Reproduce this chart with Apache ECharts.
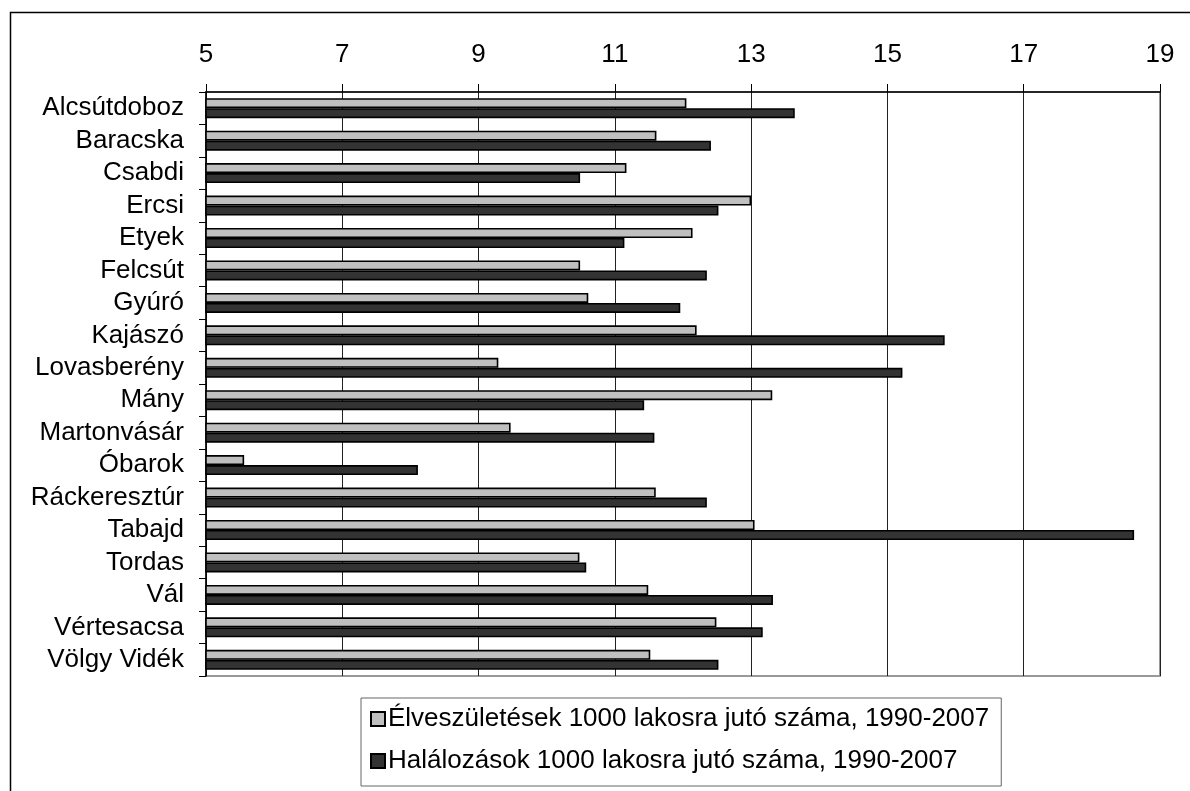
<!DOCTYPE html>
<html>
<head>
<meta charset="utf-8">
<script src="https://cdn.jsdelivr.net/npm/echarts@6/dist/echarts.min.js"></script>
<style>
html,body{margin:0;padding:0;background:#fff;}
#chart{width:1190px;height:791px;}
</style>
</head>
<body>
<div id="chart"></div>
<script>
var categories = ['Alcsútdoboz','Baracska','Csabdi','Ercsi','Etyek','Felcsút','Gyúró','Kajászó','Lovasberény','Mány','Martonvásár','Óbarok','Ráckeresztúr','Tabajd','Tordas','Vál','Vértesacsa','Völgy Vidék'];
var births = [12.05, 11.61, 11.17, 13.0, 12.14, 10.49, 10.61, 12.2, 9.29, 13.31, 9.47, 5.56, 11.6, 13.05, 10.48, 11.49, 12.49, 11.52];
var deaths = [13.64, 12.41, 10.49, 12.52, 11.14, 12.35, 11.96, 15.84, 15.22, 11.43, 11.58, 8.11, 12.35, 18.62, 10.58, 13.32, 13.17, 12.52];
var seriesNames = ['Élveszületések 1000 lakosra jutó száma, 1990-2007', 'Halálozások 1000 lakosra jutó száma, 1990-2007'];
var xMin = 5, xMax = 19, xStep = 2;

var FONT = '"Liberation Sans", Arial, sans-serif';
var chart = echarts.init(document.getElementById('chart'), null, {renderer: 'canvas'});
chart.setOption({
  backgroundColor: '#fff',
  animation: false,
  textStyle: {fontFamily: FONT, color: '#000'},
  graphic: [{
    type: 'rect', left: 8, top: 10, silent: true, z: -10,
    shape: {width: 1200, height: 800},
    style: {fill: 'none', stroke: '#000', lineWidth: 1.5}
  }],
  grid: {
    left: 206, right: 30, top: 92, bottom: 115,
    show: true, borderColor: '#999', borderWidth: 2, backgroundColor: 'transparent'
  },
  legend: {
    orient: 'vertical',
    left: 361, top: 698,
    padding: [8, 12, 12, 9],
    itemGap: 16,
    itemWidth: 14, itemHeight: 14,
    borderColor: '#666', borderWidth: 1,
    icon: 'rect',
    textStyle: {fontFamily: FONT, fontSize: 26, color: '#000', padding: [0,0,0,-2]},
    data: seriesNames
  },
  xAxis: {
    type: 'value', position: 'top',
    min: xMin, max: xMax, interval: xStep,
    axisLine: {show: true, onZero: false, lineStyle: {color: '#000', width: 1.5}},
    axisTick: {show: true, length: 8, lineStyle: {color: '#000'}},
    axisLabel: {fontFamily: FONT, fontSize: 26, color: '#000', margin: 24},
    splitLine: {show: true, lineStyle: {color: '#222', width: 1}}
  },
  yAxis: {
    type: 'category', inverse: true, data: categories,
    axisLine: {show: true, lineStyle: {color: '#000', width: 1.5}},
    axisTick: {show: true, length: 7, interval: 0, lineStyle: {color: '#000'}},
    axisLabel: {fontFamily: FONT, fontSize: 26, color: '#000', margin: 22, interval: 0},
    splitLine: {show: false}
  },
  series: [{
    name: seriesNames[0], type: 'bar', data: births,
    barWidth: 10, barGap: '0%',
    itemStyle: {color: '#C0C0C0', borderColor: '#000', borderWidth: 1.6}
  }, {
    name: seriesNames[1], type: 'bar', data: deaths,
    barWidth: 10, barGap: '0%',
    itemStyle: {color: '#333333', borderColor: '#000', borderWidth: 1.6}
  }]
});
</script>
</body>
</html>
